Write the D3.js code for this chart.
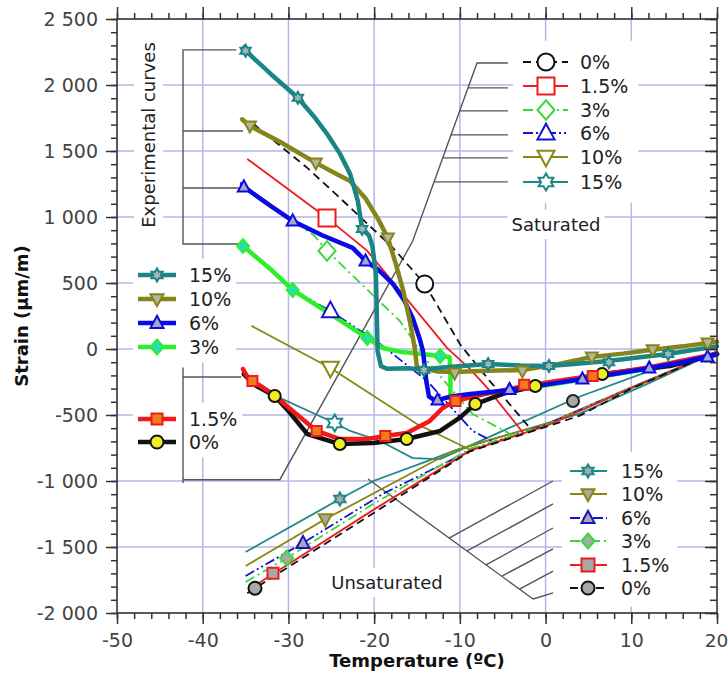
<!DOCTYPE html>
<html>
<head>
<meta charset="utf-8">
<script src="https://cdn.jsdelivr.net/npm/d3@7"></script>
<style>
  body { margin: 0; background: #fff; }
  text { font-family: "DejaVu Sans", sans-serif; }
</style>
</head>
<body>
<svg id="chart" width="728" height="675"></svg>
<script>
// ---- data (temperature °C, strain µm/m) ----
const moisture = ['0%', '1.5%', '3%', '6%', '10%', '15%']
const xTicks = [-50, -40, -30, -20, -10, 0, 10, 20]
const yTicks = [-2000, -1500, -1000, -500, 0, 500, 1000, 1500, 2000, 2500]

// experimental curves
const exp0 = [[-35.2,-190],[-34,-270],[-31.6,-356],[-30,-470],[-27.8,-644],[-24,-720],[-20.1,-712],[-16.2,-682],[-12.3,-621],[-10,-520],[-8.2,-417],[-5,-340],[-1.2,-280],[3,-230],[6.6,-190],[14.5,-129],[20,-40]]
const exp15p = [[-35.3,-152],[-34.9,-200],[-34.2,-243],[-33,-290],[-31.8,-341],[-29.5,-470],[-26.7,-621],[-24,-682],[-20.8,-682],[-18.7,-659],[-16.2,-636],[-13.5,-545],[-12,-447],[-10.6,-394],[-7,-340],[-2.4,-280],[1.5,-240],[5.5,-204],[12,-140],[20,-35]]
const exp3 = [[-35.4,800],[-35.3,780],[-32,600],[-29.5,447],[-25,260],[-20.8,83],[-19,8],[-17,-20],[-15.5,-30],[-12.3,-53],[-11.2,-60],[-11.1,-200],[-11.1,-380],[-8.8,-348],[-4.1,-318],[4.3,-232],[12.2,-148],[20,-42]]
const exp6 = [[-35.4,1250],[-35.2,1228],[-32,1080],[-29.5,970],[-26,860],[-22.5,766],[-21,667],[-19.5,600],[-17.8,493],[-16.5,370],[-15.5,235],[-14.7,80],[-14.3,-15],[-13.9,-250],[-13.6,-360],[-13,-385],[-12.6,-386],[-11,-360],[-8.8,-341],[-4.1,-311],[0,-270],[4.3,-227],[8,-190],[12.2,-144],[16,-100],[20,-40]]
const exp10 = [[-35.4,1740],[-34.5,1690],[-31,1570],[-26.8,1410],[-24.5,1330],[-22.8,1273],[-21,1140],[-19.5,980],[-18.4,841],[-17.5,650],[-16.6,440],[-15.8,200],[-15.3,20],[-15,-140],[-12.5,-170],[-10.6,-175],[-7,-165],[-2.7,-160],[1,-120],[5.4,-60],[9,-35],[12.5,-5],[16,20],[18.9,45],[20,55]]
const exp15 = [[-35.1,2290],[-35,2260],[-32,2080],[-28.9,1903],[-27,1760],[-25.5,1630],[-24,1480],[-22.8,1326],[-21.9,1120],[-21.4,909],[-20.6,860],[-20.2,780],[-19.8,568],[-19.7,300],[-19.6,-15],[-19.2,-130],[-18.5,-150],[-16,-145],[-14.3,-155],[-12,-140],[-9,-125],[-6.7,-114],[-3,-125],[0.4,-129],[4,-110],[7.3,-91],[10,-70],[14.3,-38],[17,-10],[20,20]]

const exp0Marks = [[-31.6,-356],[-24,-720],[-16.2,-682],[-8.2,-417],[-1.2,-280],[6.6,-190]]
const exp15pMarks = [[-34.2,-243],[-26.7,-621],[-18.7,-659],[-10.5,-394],[-2.5,-270],[5.5,-204]]
const exp3Marks = [[-35.3,780],[-29.5,447],[-20.8,83],[-12.3,-53]]
const exp6Marks = [[-35.2,1228],[-29.5,970],[-21,667],[-12.6,-386],[-4.2,-307],[4.3,-227],[12.1,-144],[18.9,-60]]
const exp10Marks = [[-34.5,1690],[-26.8,1410],[-18.4,841],[-10.6,-182],[-2.7,-167],[5.4,-60],[12.5,-5],[18.9,45]]
const exp15Marks = [[-35,2260],[-28.9,1903],[-21.4,909],[-14.2,-160],[-6.7,-114],[0.4,-129],[7.4,-100],[14.3,-38]]

// theoretical, saturated
const sat0 = [[-34.1,1705],[-27.8,1372],[-24,1145],[-17.8,766],[-14.1,493],[-10,38],[-8.8,-60],[-6.5,-243],[-1.8,-600]]
const sat15p = [[-34.8,1440],[-25.5,993],[-20.8,743],[-11.5,8],[-8.8,-152],[-6.8,-295],[-2.6,-636]]
const sat3 = [[-35,1228],[-29.5,970],[-27,860],[-25.5,743],[-17,212],[-13.8,-91],[-8.5,-493],[-4.1,-644]]
const sat6 = [[-35,760],[-29.5,447],[-25.1,288],[-19.3,38],[-13.8,-243],[-8.5,-621],[-6,-705]]
const sat10 = [[-34.3,175],[-25.1,-144],[-15,-568],[-8.5,-773]]
const sat15 = [[-34.5,-265],[-24.6,-561],[-22.8,-621],[-19.3,-697],[-15.5,-826],[-12.3,-834],[-5,-620],[4,-360],[12,-170],[20,-30]]
const satMarks = [[-14.1,493],[-25.5,993],[-25.5,743],[-25.1,288],[-25.1,-144],[-24.6,-561]]

// theoretical, unsaturated
const uns0 = [[-34.8,-1850],[-33.9,-1812],[-20,-1240],[-8.8,-775],[0,-590],[4,-505],[10,-300],[20,-20]]
const uns15p = [[-34.6,-1820],[-31.8,-1704],[-20,-1215],[-8.8,-770],[0,-585],[10,-297],[20,-20]]
const uns3 = [[-35,-1765],[-30.2,-1584],[-20,-1170],[-8.8,-755],[0,-580],[10,-295],[20,-20]]
const uns6 = [[-35,-1720],[-28.3,-1470],[-19,-1098],[-8.5,-760],[0,-575],[10,-293],[20,-20]]
const uns10 = [[-35,-1644],[-25.7,-1289],[-10.8,-773],[-5,-660],[0,-570],[10,-290],[20,-20]]
const uns15 = [[-35,-1538],[-24,-1137],[-20.1,-1000],[-13.8,-849],[-10.8,-773],[-5.7,-674],[4,-490],[12,-260],[20,-20]]
const unsMarks = [[-33.9,-1812],[-31.8,-1698],[-30.2,-1584],[-28.3,-1470],[-25.7,-1289],[-24,-1137]]
const extraGreyMark = [[3.2,-394]]

// leader lines (data units)
const leadExp = [[[-36.1,2266],[-42.3,2266],[-42.3,796],[-35.8,796]], [[-42.3,1652],[-35.3,1652]], [[-42.3,1220],[-35.8,1220]]]
const leadLow = [[[-42.3,-140],[-42.3,-1015]], [[-42.3,-212],[-35.5,-212]], [[-42.3,-990],[-31,-990],[-15.5,818],[-8,2167],[-4.4,2167]]]
const leadSat = [[[-9.05,1978],[-4.4,1978]], [[-10.02,1804],[-4.4,1804]], [[-11.03,1622],[-4.4,1622]], [[-12.0,1448],[-4.4,1448]], [[-13.0,1266],[-4.4,1266]]]
const leadUns = [[[-20.72,-985],[-1.46,-1894]], [[-11.26,-1432],[0.87,-1000]], [[-9.16,-1530],[0.87,-1174]], [[-6.95,-1636],[0.87,-1356]], [[-5.08,-1720],[0.87,-1515]], [[-2.98,-1818],[0.87,-1682]], [[-1.46,-1894],[0.87,-1848]]]

// ---- styles ----
const style = {
  '0%':   {exp: '#111111', fill: '#eeee22', theo: '#111111', dash: '8,5', shape: 'circle'},
  '1.5%': {exp: '#f01a1a', fill: '#f07a1e', theo: '#ee1c1c', dash: null, shape: 'square'},
  '3%':   {exp: '#2cf02c', fill: '#2adcb4', theo: '#3ad83a', dash: '10,4,2,4', shape: 'diamond'},
  '6%':   {exp: '#0a0ae6', fill: '#a8a8c4', theo: '#1414cc', dash: '10,3,2,3,2,3', shape: 'up'},
  '10%':  {exp: '#85851b', fill: '#b4b49c', theo: '#888811', dash: null, shape: 'down'},
  '15%':  {exp: '#1b8585', fill: '#a4b4b4', theo: '#1f8888', dash: null, shape: 'star'}
}

const margin = {top: 19, right: 11, bottom: 62, left: 117}
const width = 728 - margin.left - margin.right
const height = 675 - margin.top - margin.bottom

const x = d3.scaleLinear().domain([-50, 20]).range([0, width])
const y = d3.scaleLinear().domain([-2000, 2500]).range([height, 0])
const fmt = d3.formatLocale({decimal: '.', thousands: ' ', grouping: [3], currency: ['', ''], minus: '-'}).format(',')

const svg = d3.select('#chart')
const g = svg.append('g').attr('transform', `translate(${margin.left},${margin.top})`)

const gGrid = g.append('g')
const gBg = g.append('g')
const gLead = g.append('g')
const gTheo = g.append('g')
const gExp = g.append('g')
const gMark = g.append('g')
const gText = g.append('g')
const gAxis = g.append('g')

function shape(kind, r) {
  const p = d3.path()
  const poly = pts => { p.moveTo(pts[0][0], pts[0][1]); pts.slice(1).forEach(q => p.lineTo(q[0], q[1])); p.closePath() }
  if (kind === 'circle') { p.moveTo(r, 0); p.arc(0, 0, r, 0, 2 * Math.PI) }
  else if (kind === 'square') p.rect(-r, -r, 2 * r, 2 * r)
  else if (kind === 'diamond') poly([[0, -r * 1.15], [r, 0], [0, r * 1.15], [-r, 0]])
  else if (kind === 'up') poly([[0, -r * 1.1], [r, r * 0.75], [-r, r * 0.75]])
  else if (kind === 'down') poly([[0, r * 1.1], [r, -r * 0.75], [-r, -r * 0.75]])
  else if (kind === 'star') {
    const pts = d3.range(12).map(i => {
      const a = i * Math.PI / 6 - Math.PI / 2
      const rr = i % 2 ? r * 0.58 : r
      return [rr * Math.cos(a), rr * Math.sin(a)]
    })
    poly(pts)
  }
  return p.toString()
}

// grid
gGrid.selectAll('.gx').data(xTicks.slice(1, -1)).enter().append('line')
  .attr('x1', d => x(d)).attr('x2', d => x(d)).attr('y1', 0).attr('y2', height)
  .attr('stroke', '#b6b6e8').attr('stroke-width', 1.5)
gGrid.selectAll('.gy').data(yTicks.slice(1, -1)).enter().append('line')
  .attr('x1', 0).attr('x2', width).attr('y1', d => y(d)).attr('y2', d => y(d))
  .attr('stroke', '#b6b6e8').attr('stroke-width', 1.5)

const line = d3.line().x(d => x(d[0])).y(d => y(d[1]))

// leader lines
;[...leadExp, ...leadLow, ...leadSat, ...leadUns].forEach(seg => {
  gLead.append('path').attr('d', line(seg)).attr('fill', 'none')
    .attr('stroke', '#555').attr('stroke-width', 1.4)
})

// theoretical lines
const theo = [
  ['15%', sat15, uns15], ['10%', sat10, uns10], ['6%', sat6, uns6],
  ['3%', sat3, uns3], ['1.5%', sat15p, uns15p], ['0%', sat0, uns0]
]
theo.forEach(([k, s, u]) => {
  ;[s, u].forEach(pts => {
    gTheo.append('path').attr('d', line(pts)).attr('fill', 'none')
      .attr('stroke', style[k].theo).attr('stroke-width', 1.8)
      .attr('stroke-dasharray', style[k].dash)
  })
})

// experimental lines
const exps = [['3%', exp3, exp3Marks], ['0%', exp0, exp0Marks], ['1.5%', exp15p, exp15pMarks],
  ['6%', exp6, exp6Marks], ['10%', exp10, exp10Marks], ['15%', exp15, exp15Marks]]
exps.forEach(([k, pts]) => {
  gExp.append('path').attr('d', line(pts)).attr('fill', 'none')
    .attr('stroke', style[k].exp).attr('stroke-width', 4.5)
    .attr('stroke-linejoin', 'round').attr('stroke-linecap', 'round')
})

// markers
moisture.forEach((k, i) => {
  gMark.append('path').attr('d', shape(style[k].shape, 8.5))
    .attr('transform', `translate(${x(satMarks[i][0])},${y(satMarks[i][1])})`)
    .attr('fill', '#fff').attr('stroke', style[k].theo).attr('stroke-width', 2)
  gMark.append('path').attr('d', shape(style[k].shape, k === '1.5%' ? 5.5 : 6.5))
    .attr('transform', `translate(${x(unsMarks[i][0])},${y(unsMarks[i][1])})`)
    .attr('fill', '#a8a8a8').attr('stroke', style[k].theo).attr('stroke-width', 2)
})
extraGreyMark.forEach(d => {
  gMark.append('path').attr('d', shape('circle', 6))
    .attr('transform', `translate(${x(d[0])},${y(d[1])})`)
    .attr('fill', '#a8a8a8').attr('stroke', '#222').attr('stroke-width', 2)
})
exps.forEach(([k, pts, marks]) => {
  gMark.selectAll(null).data(marks).enter().append('path')
    .attr('d', shape(style[k].shape, k === '1.5%' ? 5 : 6))
    .attr('transform', d => `translate(${x(d[0])},${y(d[1])})`)
    .attr('fill', style[k].fill).attr('stroke', style[k].exp).attr('stroke-width', 2)
})

// white box behind a legend or label group
function boxBehind(node, pad) {
  const b = node.getBBox()
  const t = node.getAttribute('transform') || ''
  const mm = t.match(/translate\(([^,]+),([^)]+)\)/)
  const tx = mm ? +mm[1] : 0, ty = mm ? +mm[2] : 0
  if (t.includes('rotate')) {
    gBg.append('rect').attr('x', tx + b.y - pad).attr('y', ty - b.x - b.width - pad)
      .attr('width', b.height + 2 * pad).attr('height', b.width + 2 * pad).attr('fill', '#fff')
    return
  }
  gBg.append('rect').attr('x', tx + b.x - pad).attr('y', ty + b.y - pad)
    .attr('width', b.width + 2 * pad).attr('height', b.height + 2 * pad).attr('fill', '#fff')
}

// legends
function legend(rows, ox, oy, lineX, markX, textX, kindOf, pad) {
  const lg = gText.append('g').attr('transform', `translate(${ox},${oy})`)
  rows.forEach(([k, ry]) => {
    const s = kindOf(k)
    lg.append('line').attr('x1', lineX[0]).attr('x2', lineX[1]).attr('y1', ry).attr('y2', ry)
      .attr('stroke', s.color).attr('stroke-width', s.width).attr('stroke-dasharray', s.dash)
    lg.append('path').attr('d', shape(style[k].shape, s.r)).attr('transform', `translate(${markX},${ry})`)
      .attr('fill', s.fill).attr('stroke', s.color).attr('stroke-width', 2)
    lg.append('text').attr('x', textX).attr('y', ry).attr('dy', '0.35em')
      .attr('font-size', 19).attr('fill', '#222').text(k)
  })
  boxBehind(lg.node(), pad)
}
const L = (px, py) => [px - margin.left, py - margin.top]

const expKind = k => ({color: style[k].exp, width: 4.5, dash: null, fill: style[k].fill, r: k === '1.5%' ? 5.5 : 6.5})
const o = L(0, 0)
legend([['15%', 275], ['10%', 299], ['6%', 323], ['3%', 347]], o[0], o[1], [138, 176], 157, 189, expKind, 5)
legend([['1.5%', 419], ['0%', 442]], o[0], o[1], [138, 176], 157, 189, expKind, 5)
legend([['0%', 62], ['1.5%', 86], ['3%', 110], ['6%', 133], ['10%', 157], ['15%', 182]], o[0], o[1],
  [523, 568], 546, 580, k => ({color: style[k].theo, width: 1.8, dash: style[k].dash, fill: '#fff', r: 8.5}), 10)
legend([['15%', 471], ['10%', 494], ['6%', 518], ['3%', 541], ['1.5%', 565], ['0%', 588]], o[0], o[1],
  [570, 607], 588, 621, k => ({color: style[k].theo, width: 1.8, dash: style[k].dash, fill: '#a8a8a8', r: 6.5}), 8)

// labels
function label(txt, px, py, rot) {
  const p = L(px, py)
  const t = gText.append('g').attr('transform', `translate(${p[0]},${p[1]})${rot ? ' rotate(-90)' : ''}`)
  t.append('text').attr('text-anchor', 'middle').attr('font-size', 18).attr('fill', '#222').text(txt)
  boxBehind(t.node(), 4)
}
label('Saturated', 556, 231)
label('Unsaturated', 387, 589)
label('Experimental curves', 155, 135, true)

// axes
function styleAxis(sel) {
  sel.select('.domain').remove()
  sel.selectAll('line').attr('stroke', '#333').attr('stroke-width', 1.5)
  sel.selectAll('text').attr('font-size', 19).attr('fill', '#444').attr('font-family', '"DejaVu Sans", sans-serif')
}
const minorX = d3.range(-50, 21, 2)
const minorY = d3.range(-2000, 2501, 100)
gAxis.append('g').attr('transform', `translate(0,${height})`)
  .call(d3.axisBottom(x).tickValues(minorX).tickSize(6).tickFormat('')).call(styleAxis)
const xAxisG = gAxis.append('g').attr('transform', `translate(0,${height})`)
  .call(d3.axisBottom(x).tickValues(xTicks).tickSize(11).tickPadding(10).tickFormat(fmt)).call(styleAxis)
xAxisG.selectAll('text').filter(d => d === 20).attr('dx', -1).attr('font-size', 18.5)
gAxis.append('g').call(d3.axisTop(x).tickValues(minorX).tickSize(6).tickFormat('')).call(styleAxis)
gAxis.append('g').call(d3.axisTop(x).tickValues(xTicks).tickSize(12).tickFormat('')).call(styleAxis)
gAxis.append('g').call(d3.axisLeft(y).tickValues(minorY).tickSize(6).tickFormat('')).call(styleAxis)
gAxis.append('g').call(d3.axisLeft(y).tickValues(yTicks).tickSize(11).tickPadding(8).tickFormat(fmt)).call(styleAxis)
gAxis.append('g').attr('transform', `translate(${width},0)`)
  .call(d3.axisRight(y).tickValues(minorY).tickSize(-7).tickFormat('')).call(styleAxis)
gAxis.append('g').attr('transform', `translate(${width},0)`)
  .call(d3.axisRight(y).tickValues(yTicks).tickSize(-12).tickFormat('')).call(styleAxis)
gAxis.append('rect').attr('width', width).attr('height', height)
  .attr('fill', 'none').attr('stroke', '#333').attr('stroke-width', 1.6)

svg.append('text').attr('x', 417).attr('y', 667).attr('text-anchor', 'middle')
  .attr('font-size', 18).attr('font-weight', 'bold').attr('fill', '#111').text('Temperature (ºC)')
svg.append('text').attr('transform', 'translate(28,316) rotate(-90)').attr('text-anchor', 'middle')
  .attr('font-size', 18).attr('font-weight', 'bold').attr('fill', '#111').text('Strain (µm/m)')
</script>
</body>
</html>
